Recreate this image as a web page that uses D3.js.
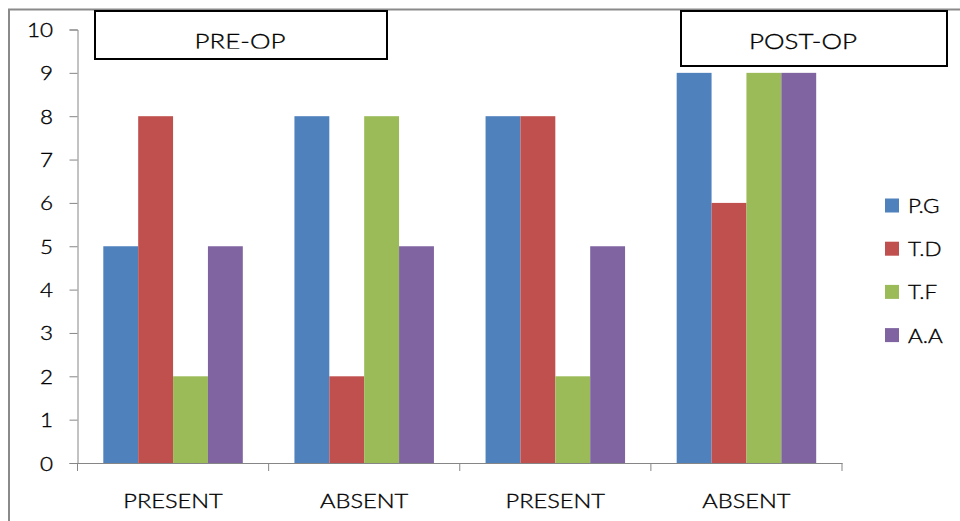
<!DOCTYPE html>
<html>
<head>
<meta charset="utf-8">
<script src="https://cdn.jsdelivr.net/npm/d3@7"></script>
<style>
  html, body { margin: 0; padding: 0; background: #fff; }
  svg { display: block; }
  text { font-family: Lato, "Open Sans", sans-serif; font-weight: 300; fill: #000;
         stroke: #000; stroke-width: 0.35px; }
</style>
</head>
<body>
<svg id="chart" width="960" height="521"></svg>
<script>
// Category labels along the x axis (two phases, each with PRESENT / ABSENT)
const categories = ["PRESENT", "ABSENT", "PRESENT", "ABSENT"];
const seriesNames = ["P.G", "T.D", "T.F", "A.A"];
const seriesColors = ["#4F81BD", "#C0504D", "#9BBB59", "#8064A2"];

// Counts per series, one value per category
const pgValues = [5, 8, 8, 9];
const tdValues = [8, 2, 8, 6];
const tfValues = [2, 8, 2, 9];
const aaValues = [5, 5, 5, 9];

const yTicks = [0, 1, 2, 3, 4, 5, 6, 7, 8, 9, 10];
const phaseLabels = ["PRE-OP", "POST-OP"];

const seriesValues = [pgValues, tdValues, tfValues, aaValues];
const STRETCH = 1.18; // horizontal widening of the label glyphs

const svg = d3.select("#chart");

// outer chart frame
svg.append("rect")
  .attr("x", 9).attr("y", 9.5)
  .attr("width", 1000).attr("height", 600)
  .attr("fill", "none")
  .attr("stroke", "#8a8a8a")
  .attr("stroke-width", 2);

const plot = { left: 77.5, right: 842, top: 29.5, bottom: 463 };

const x0 = d3.scaleBand()
  .domain(d3.range(categories.length))
  .range([plot.left, plot.right])
  .paddingInner(0).paddingOuter(0);

const x1 = d3.scaleBand()
  .domain(d3.range(seriesNames.length))
  .range([0, x0.bandwidth()])
  .paddingInner(0)
  .paddingOuter(0.74);

const y = d3.scaleLinear().domain([0, 10]).range([plot.bottom, plot.top]);

function stretchText(sel) {
  sel.each(function () {
    const t = d3.select(this);
    const tx = +t.attr("x") || 0;
    const ty = +t.attr("y") || 0;
    t.attr("x", 0).attr("y", 0)
     .attr("transform", `translate(${tx},${ty}) scale(${STRETCH},1)`);
  });
}

// bars
const groups = svg.append("g").selectAll("g")
  .data(categories.map((c, i) => i))
  .join("g")
  .attr("transform", i => `translate(${x0(i)},0)`);

groups.selectAll("rect")
  .data(i => seriesValues.map((vals, s) => ({ s, v: vals[i] })))
  .join("rect")
  .attr("x", d => x1(d.s))
  .attr("y", d => y(d.v))
  .attr("width", x1.bandwidth())
  .attr("height", d => y(0) - y(d.v))
  .attr("fill", d => seriesColors[d.s]);

// y axis
const yAxis = svg.append("g")
  .attr("transform", `translate(${plot.left},0)`)
  .call(d3.axisLeft(y).tickValues(yTicks).tickFormat(d3.format("d"))
    .tickSizeInner(8).tickSizeOuter(8).tickPadding(0));
yAxis.select(".domain").attr("stroke", "#868686");
yAxis.selectAll(".tick line").attr("stroke", "#868686");
yAxis.selectAll(".tick text")
  .attr("font-size", 19)
  .attr("font-family", "Lato, 'Open Sans', sans-serif")
  .attr("fill", "#000")
  .attr("x", -24.5)
  .attr("dy", null)
  .attr("y", 7)
  .call(stretchText);

// x axis
const xAxis = svg.append("g")
  .attr("transform", `translate(0,${plot.bottom})`)
  .call(d3.axisBottom(x0).tickSize(0).tickFormat(i => categories[i]));
xAxis.select(".domain").attr("stroke", "#868686");
xAxis.selectAll(".tick text")
  .attr("font-size", 20)
  .attr("font-family", "Lato, 'Open Sans', sans-serif")
  .attr("fill", "#000")
  .attr("dy", null)
  .attr("y", 45)
  .call(stretchText);
// category boundary ticks
const boundaries = x0.domain().map(i => x0(i)).concat([plot.right]);
xAxis.selectAll("line.sep")
  .data(boundaries)
  .join("line")
  .attr("class", "sep")
  .attr("x1", d => d).attr("x2", d => d)
  .attr("y1", 0).attr("y2", 8)
  .attr("stroke", "#868686");

// phase label boxes
const boxes = [
  { label: phaseLabels[0], x: 95, y: 11, w: 292, h: 48, tx: 240, clip: 48.5 },
  { label: phaseLabels[1], x: 681, y: 11, w: 266, h: 55, tx: 803, clip: 70 }
];
const defs = svg.append("defs");
boxes.forEach((b, i) => {
  defs.append("clipPath").attr("id", "boxclip" + i)
    .append("rect").attr("x", b.x).attr("y", b.y).attr("width", b.w).attr("height", b.clip - b.y);
  svg.append("rect")
    .attr("x", b.x).attr("y", b.y).attr("width", b.w).attr("height", b.h)
    .attr("fill", "#fff").attr("stroke", "#000").attr("stroke-width", 2);
  svg.append("g").attr("clip-path", `url(#boxclip${i})`)
    .append("text")
    .attr("x", b.tx).attr("y", 48.5)
    .attr("text-anchor", "middle")
    .attr("font-size", 22)
    .text(b.label)
    .call(stretchText);
});

// legend
const legend = svg.append("g").selectAll("g")
  .data(seriesNames.map((n, i) => i))
  .join("g")
  .attr("transform", i => `translate(885,${205.5 + i * 43.2})`);
legend.append("rect")
  .attr("x", 0).attr("y", -7).attr("width", 14).attr("height", 14)
  .attr("fill", i => seriesColors[i]);
legend.append("text")
  .attr("x", 23).attr("y", 7.5)
  .attr("font-size", 19)
  .text(i => seriesNames[i])
  .call(stretchText);
</script>
</body>
</html>
